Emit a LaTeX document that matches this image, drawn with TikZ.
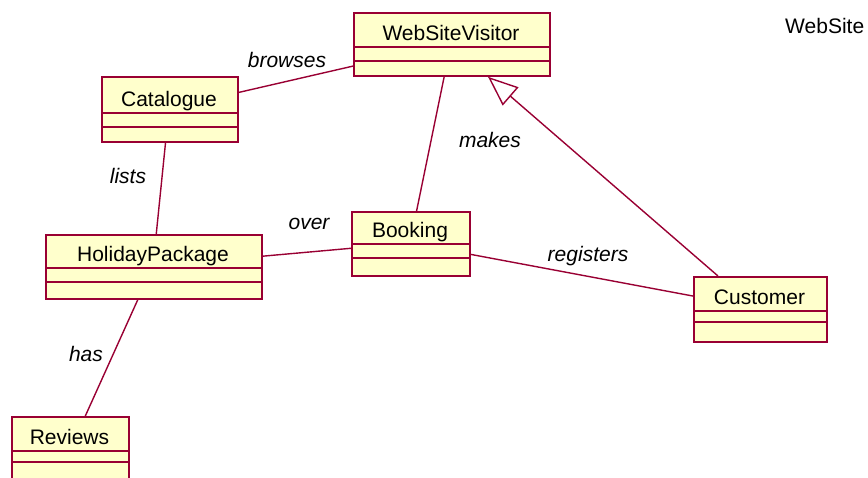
\documentclass[tikz,border=0pt]{standalone}
\usepackage{fontspec}
\setmainfont{Liberation Sans}
\usetikzlibrary{arrows.meta,calc}

\definecolor{umledge}{HTML}{990033}
\definecolor{umlfill}{HTML}{FFFFCC}

\tikzset{
  classbox/.style={draw=umledge, fill=umlfill, line width=1.8pt, inner sep=0pt},
  classrule/.style={draw=umledge, line width=1.4pt},
  classname/.style={anchor=base, inner sep=0pt, font=\fontsize{21}{24}\selectfont},
  assoc/.style={draw=umledge, line width=1.4pt},
  genline/.style={draw=umledge, line width=1.4pt,
    -{Triangle[open, length=30pt, width=24pt, line width=1.4pt]}},
  rolelabel/.style={inner sep=0pt, font=\fontsize{21}{24}\selectfont\itshape},
}

% class box: name, left, top, right, bottom, first rule, second rule, title
\newcommand\umlclass[8]{%
  \pgfmathsetmacro\ucw{#4-#2}\pgfmathsetmacro\uch{#5-#3}%
  \node[classbox, minimum width=\ucw pt, minimum height=\uch pt, anchor=north west] (#1) at (#2,#3) {};
  \draw[classrule] (#2,#6) -- (#4,#6) (#2,#7) -- (#4,#7);
  \node[classname] (#1-name) at ({(#2+#4)/2},{#6-7}) {#8};
}

\begin{document}
\begin{tikzpicture}[x=1pt, y=-1pt]
  \useasboundingbox (0,0) rectangle (868,477);
  \clip (0,0) rectangle (868,477);

  % associations (drawn first, boxes cover the ends)
  \coordinate (wsvc) at (451,43.5);
  \coordinate (catc) at (169,108.5);
  \coordinate (hpc)  at (153,266);
  \coordinate (bkc)  at (410,243);
  \coordinate (cuc)  at (759.5,308.5);
  \coordinate (rvc)  at (69.5,451);

  \draw[assoc] (catc) -- (wsvc);
  \draw[assoc] (catc) -- (hpc);
  \draw[assoc] (wsvc) -- (bkc);
  \draw[assoc] (hpc) -- (bkc);
  \draw[assoc] (bkc) -- (cuc);
  \draw[assoc] (hpc) -- (rvc);

  \umlclass{wsv}{353}{12}{549}{75}{47}{61}{WebSiteVisitor}
  \umlclass{cat}{101}{76}{237}{141}{113}{127}{Catalogue}
  \umlclass{hp}{45}{234}{261}{298}{268}{282}{HolidayPackage}
  \umlclass{bk}{351}{211}{469}{275}{244}{258}{Booking}
  \umlclass{cust}{693}{276}{826}{341}{311}{322}{Customer}
  \umlclass{rev}{11}{416}{128}{488}{451}{462}{Reviews}

  % generalization: Customer is a WebSiteVisitor
  \draw[genline] ($(cust.north west)+(25,0)$) -- ($(wsv.south west)+(135,0)$);

  % association names
  \node[rolelabel] (lbrowses) at (287,60) {browses};
  \node[rolelabel] (llists) at (128,176) {lists};
  \node[rolelabel] (lmakes) at (490,140) {makes};
  \node[rolelabel] (lover) at (309,224) {over};
  \node[rolelabel] (lregisters) at (588,256) {registers};
  \node[rolelabel] (lhas) at (86,354) {has};

  \node[classname, anchor=base west] (site) at (785,33) {WebSite};
\end{tikzpicture}
\end{document}
